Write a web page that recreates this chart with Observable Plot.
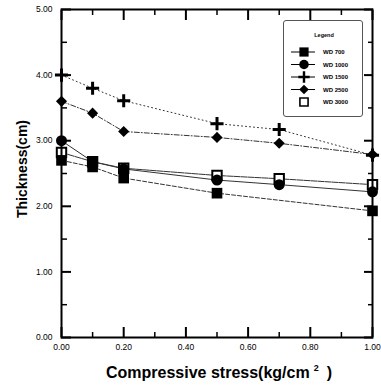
<!DOCTYPE html>
<html><head><meta charset="utf-8">
<script src="https://cdn.jsdelivr.net/npm/d3@7"></script>
<script src="https://cdn.jsdelivr.net/npm/@observablehq/plot@0.6"></script>
<style>
body{margin:0;background:#fff;}
#wrap{position:relative;width:381px;height:387px;font-family:"Liberation Sans",Arial,sans-serif;color:#000;}
#ytitle{position:absolute;left:22px;top:169px;transform:translate(-50%,-50%) rotate(-90deg);font-weight:bold;font-size:14px;white-space:nowrap;}
#xtitle{position:absolute;left:219px;top:372px;transform:translate(-50%,-50%);font-weight:bold;font-size:16px;white-space:nowrap;}
#xtitle sup{font-size:9px;vertical-align:7px;margin-left:4px;margin-right:8px;}
#legend{position:absolute;left:283px;top:20px;width:78px;height:95px;border:1px solid #555;border-radius:3px;background:#fff;}
</style></head><body><div id="wrap"></div>
<script>
const stress = [0, 0.1, 0.2, 0.5, 0.7, 1.0];
const seriesNames = ["WD 700", "WD 1000", "WD 1500", "WD 2500", "WD 3000"];
const wd700  = [2.70, 2.60, 2.43, 2.20, null, 1.93];
const wd1000 = [3.00, 2.68, 2.57, 2.40, 2.33, 2.22];
const wd1500 = [4.00, 3.80, 3.61, 3.26, 3.17, 2.78];
const wd2500 = [3.60, 3.42, 3.14, 3.05, 2.96, 2.79];
const wd3000 = [2.82, 2.68, 2.58, 2.47, 2.42, 2.33];
const xTicks = [0, 0.2, 0.4, 0.6, 0.8, 1.0];
const xMinor = [0.1, 0.3, 0.5, 0.7, 0.9];
const yTicks = [0, 1, 2, 3, 4, 5];
const yMinor = [0.5, 1.5, 2.5, 3.5, 4.5];

const values = [wd700, wd1000, wd1500, wd2500, wd3000];
const styles = {
  "WD 700":  {symbol: "square",   r: 6.0, fill: "#000", stroke: "none", sw: 0, dash: "4,2"},
  "WD 1000": {symbol: "circle",   r: 5.5, fill: "#000", stroke: "none", sw: 0, dash: null},
  "WD 1500": {symbol: "plus",     r: 4.3, fill: "none", stroke: "#000", sw: 3, dash: "1,3"},
  "WD 2500": {symbol: "diamond2", r: 5.0, fill: "#000", stroke: "none", sw: 0, dash: "5,2,1,2"},
  "WD 3000": {symbol: "square",   r: 5.3, fill: "#fff", stroke: "#000", sw: 2, dash: "6,1"}
};
const rows = [];
seriesNames.forEach((name, i) => values[i].forEach((v, j) => {
  if (v != null) rows.push({series: name, x: stress[j], y: v});
}));

const drawOrder = ["WD 3000", "WD 700", "WD 1000", "WD 2500", "WD 1500"];
const lineMarks = seriesNames.map(name => Plot.line(rows.filter(d => d.series === name), {
  x: "x", y: "y", stroke: "#333", strokeWidth: 1, strokeDasharray: styles[name].dash
}));
const dotMarks = drawOrder.map(name => {
  const s = styles[name];
  return Plot.dot(rows.filter(d => d.series === name), {
    x: "x", y: "y", symbol: () => s.symbol, r: s.r, fill: s.fill, stroke: s.stroke, strokeWidth: s.sw
  });
});
const blank = () => "";
const chart = Plot.plot({
  width: 381, height: 387,
  marginLeft: 61, marginRight: 9, marginTop: 9, marginBottom: 50,
  style: {fontFamily: "'Liberation Sans', Arial, sans-serif", background: "#fff", color: "#000"},
  x: {domain: [0, 1]},
  y: {domain: [0, 5]},
  marks: [
    ...lineMarks,
    ...dotMarks,
    Plot.frame({stroke: "#000", strokeWidth: 2}),
    Plot.axisY(yTicks, {anchor: "left", tickSize: 0, tickPadding: 9, tickFormat: d3.format(".2f"), fontSize: 8.5, label: null}),
    Plot.axisY(yTicks, {anchor: "left", tickSize: -10, strokeWidth: 2, tickFormat: blank, label: null}),
    Plot.axisY(yMinor, {anchor: "left", tickSize: -6, strokeWidth: 1.5, tickFormat: blank, label: null}),
    Plot.axisY(yTicks, {anchor: "right", tickSize: -9, strokeWidth: 2, tickFormat: blank, label: null}),
    Plot.axisY(yMinor, {anchor: "right", tickSize: -5, strokeWidth: 1.5, tickFormat: blank, label: null}),
    Plot.axisX(xTicks, {anchor: "bottom", tickSize: 0, tickPadding: 6, tickFormat: d3.format(".2f"), fontSize: 8.5, label: null}),
    Plot.axisX(xTicks, {anchor: "bottom", tickSize: -10, strokeWidth: 2, tickFormat: blank, label: null}),
    Plot.axisX(xMinor, {anchor: "bottom", tickSize: -5, strokeWidth: 1.5, tickFormat: blank, label: null}),
    Plot.axisX(xTicks, {anchor: "top", tickSize: -10, strokeWidth: 2, tickFormat: blank, label: null}),
    Plot.axisX(xMinor, {anchor: "top", tickSize: -5, strokeWidth: 1.5, tickFormat: blank, label: null})
  ]
});
const wrap = document.getElementById("wrap");
wrap.appendChild(chart);

const yt = document.createElement("div"); yt.id = "ytitle"; yt.textContent = "Thickness(cm)"; wrap.appendChild(yt);
const xt = document.createElement("div"); xt.id = "xtitle";
xt.innerHTML = "Compressive stress(kg/cm<sup>2</sup>)"; wrap.appendChild(xt);

// legend
const leg = document.createElement("div"); leg.id = "legend"; wrap.appendChild(leg);
const symMap = {square: d3.symbolSquare, circle: d3.symbolCircle, plus: d3.symbolPlus, diamond2: d3.symbolDiamond2};
const lsvg = d3.select(leg).append("svg").attr("width", 78).attr("height", 95)
  .style("font-family", "'Liberation Sans', Arial, sans-serif");
lsvg.append("text").attr("x", 40).attr("y", 16).attr("text-anchor", "middle")
  .attr("font-size", 5.5).attr("font-weight", "bold").text("Legend");
seriesNames.forEach((name, i) => {
  const s = styles[name];
  const cy = 31 + i * 12.5;
  const g = lsvg.append("g").attr("transform", `translate(20,${cy})`);
  if (name !== "WD 3000") g.append("line").attr("x1", -13).attr("x2", 11).attr("stroke", "#000").attr("stroke-width", 1);
  g.append("path").attr("d", d3.symbol(symMap[s.symbol], Math.PI * s.r * s.r * 0.75)())
    .attr("fill", s.fill).attr("stroke", s.stroke).attr("stroke-width", s.sw ? s.sw * 0.8 : 0);
  lsvg.append("text").attr("x", 39).attr("y", cy).attr("dy", "0.35em")
    .attr("font-size", 6).attr("font-weight", "bold").text(name);
});
</script></body></html>
